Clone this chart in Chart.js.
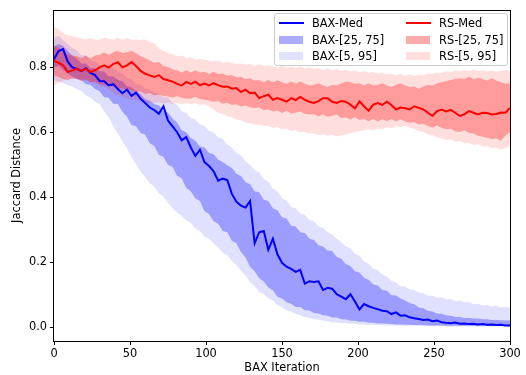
<!DOCTYPE html>
<html><head><meta charset="utf-8">
<script src="https://cdn.jsdelivr.net/npm/chart.js@4"></script>
<style>
html,body{margin:0;padding:0;background:#fff;}
#wrap{position:relative;width:526px;height:375px;}
#legend{position:absolute;left:274px;top:13px;width:234px;height:53px;border:1px solid #cccccc;border-radius:3px;background:rgba(255,255,255,0.8);font:11.4px "DejaVu Sans",sans-serif;color:#000;box-sizing:border-box;}
.t{position:absolute;height:14px;line-height:14px;white-space:nowrap;}
.h{position:absolute;}
</style></head>
<body>
<div id="wrap">
<canvas id="c" width="526" height="375"></canvas>
<div id="legend">
  <div class="h" style="left:4px;top:8px;width:25px;height:2px;background:#0000ff"></div>
  <div class="t" style="left:37px;top:2px">BAX-Med</div>
  <div class="h" style="left:131px;top:8px;width:25px;height:2px;background:#ff0000"></div>
  <div class="t" style="left:164px;top:2px">RS-Med</div>
  <div class="h" style="left:4px;top:22px;width:24px;height:8px;background:rgba(0,0,255,0.33)"></div>
  <div class="t" style="left:37px;top:19px">BAX-[25, 75]</div>
  <div class="h" style="left:131px;top:22px;width:24px;height:8px;background:rgba(255,0,0,0.33)"></div>
  <div class="t" style="left:164px;top:19px">RS-[25, 75]</div>
  <div class="h" style="left:4px;top:38px;width:24px;height:8px;background:rgba(0,0,255,0.12)"></div>
  <div class="t" style="left:37px;top:35px">BAX-[5, 95]</div>
  <div class="h" style="left:131px;top:38px;width:24px;height:8px;background:rgba(255,0,0,0.13)"></div>
  <div class="t" style="left:164px;top:35px">RS-[5, 95]</div>
</div>
</div>
<script>
const ITERS = [0,3,6,9,12,15,18,21,24,27,30,33,36,39,42,45,48,51,54,57,60,63,66,69,72,75,78,81,84,87,90,93,96,99,102,105,108,111,114,117,120,123,126,129,132,135,138,141,144,147,150,153,156,159,162,165,168,171,174,177,180,183,186,189,192,195,198,201,204,207,210,213,216,219,222,225,228,231,234,237,240,243,246,249,252,255,258,261,264,267,270,273,276,279,282,285,288,291,294,297,300];
const X_TICKS = [0,50,100,150,200,250,300];
const Y_TICKS = [0.0,0.2,0.4,0.6,0.8];

const BAX_MED = [0.825,0.850,0.856,0.818,0.800,0.795,0.788,0.797,0.783,0.776,
0.758,0.757,0.744,0.748,0.733,0.720,0.731,0.712,0.722,0.703,
0.690,0.676,0.668,0.657,0.680,0.636,0.618,0.600,0.575,0.585,
0.553,0.527,0.546,0.508,0.496,0.480,0.451,0.457,0.453,0.410,
0.386,0.374,0.368,0.388,0.258,0.292,0.296,0.238,0.272,0.224,
0.198,0.186,0.179,0.170,0.176,0.134,0.141,0.139,0.141,0.114,
0.121,0.118,0.101,0.094,0.086,0.101,0.079,0.054,0.071,0.064,
0.059,0.055,0.050,0.049,0.040,0.045,0.035,0.036,0.030,0.027,
0.025,0.022,0.023,0.018,0.020,0.015,0.013,0.012,0.014,0.010,
0.011,0.009,0.010,0.008,0.009,0.007,0.008,0.006,0.007,0.005,
0.005];
const BAX_P25 = [0.800,0.805,0.792,0.781,0.772,0.764,0.761,0.748,0.746,0.733,
0.726,0.708,0.706,0.688,0.687,0.663,0.648,0.622,0.618,0.598,
0.592,0.566,0.558,0.531,0.524,0.500,0.493,0.466,0.458,0.428,
0.418,0.397,0.388,0.357,0.348,0.326,0.318,0.296,0.292,0.266,
0.258,0.231,0.214,0.186,0.172,0.150,0.140,0.122,0.113,0.093,
0.088,0.076,0.072,0.062,0.062,0.052,0.051,0.043,0.042,0.036,
0.035,0.029,0.029,0.024,0.023,0.019,0.019,0.016,0.016,0.013,
0.013,0.011,0.011,0.010,0.009,0.008,0.008,0.007,0.007,0.006,
0.006,0.006,0.005,0.005,0.005,0.005,0.004,0.004,0.004,0.004,
0.004,0.004,0.003,0.003,0.003,0.003,0.003,0.003,0.003,0.003,
0.003];
const BAX_P75 = [0.865,0.872,0.866,0.851,0.836,0.826,0.812,0.811,0.798,0.797,
0.788,0.787,0.772,0.772,0.762,0.757,0.742,0.738,0.726,0.717,
0.702,0.697,0.686,0.683,0.666,0.660,0.642,0.630,0.606,0.600,
0.582,0.574,0.556,0.553,0.536,0.532,0.516,0.508,0.498,0.490,
0.472,0.465,0.446,0.440,0.418,0.415,0.392,0.388,0.366,0.360,
0.338,0.334,0.312,0.310,0.292,0.290,0.272,0.268,0.252,0.248,
0.236,0.234,0.216,0.210,0.194,0.188,0.172,0.168,0.152,0.146,
0.132,0.128,0.114,0.112,0.098,0.097,0.088,0.082,0.074,0.070,
0.060,0.058,0.050,0.048,0.042,0.041,0.036,0.035,0.031,0.031,
0.028,0.028,0.026,0.026,0.024,0.024,0.022,0.022,0.021,0.020,
0.020];
const BAX_P5 = [0.760,0.755,0.752,0.744,0.741,0.733,0.726,0.714,0.706,0.694,
0.686,0.664,0.646,0.618,0.596,0.572,0.551,0.522,0.502,0.478,
0.462,0.443,0.432,0.412,0.402,0.383,0.366,0.352,0.342,0.328,
0.321,0.303,0.296,0.278,0.272,0.258,0.246,0.228,0.222,0.203,
0.192,0.173,0.158,0.138,0.126,0.108,0.102,0.088,0.082,0.068,
0.062,0.052,0.047,0.040,0.036,0.030,0.028,0.024,0.023,0.019,
0.018,0.015,0.015,0.012,0.012,0.010,0.010,0.008,0.008,0.007,
0.007,0.006,0.006,0.005,0.005,0.005,0.004,0.004,0.004,0.004,
0.003,0.003,0.003,0.003,0.003,0.003,0.002,0.002,0.002,0.002,
0.002,0.002,0.002,0.002,0.002,0.002,0.002,0.002,0.002,0.002,
0.002];
const BAX_P95 = [0.890,0.897,0.884,0.872,0.860,0.852,0.838,0.836,0.822,0.818,
0.808,0.806,0.798,0.797,0.788,0.782,0.768,0.764,0.748,0.746,
0.734,0.732,0.722,0.718,0.708,0.706,0.690,0.684,0.664,0.660,
0.644,0.640,0.624,0.620,0.604,0.600,0.584,0.580,0.562,0.552,
0.536,0.530,0.510,0.500,0.484,0.476,0.456,0.448,0.426,0.418,
0.396,0.390,0.370,0.366,0.350,0.346,0.330,0.326,0.310,0.306,
0.292,0.286,0.272,0.262,0.248,0.242,0.226,0.220,0.202,0.196,
0.180,0.176,0.162,0.156,0.142,0.138,0.126,0.124,0.116,0.114,
0.106,0.104,0.096,0.096,0.090,0.092,0.085,0.086,0.080,0.082,
0.076,0.078,0.070,0.072,0.066,0.068,0.063,0.066,0.060,0.062,
0.060];

const RS_MED = [0.820,0.814,0.806,0.786,0.790,0.796,0.789,0.795,0.786,0.791,
0.800,0.806,0.799,0.810,0.816,0.800,0.806,0.816,0.804,0.789,
0.780,0.775,0.770,0.776,0.764,0.760,0.756,0.749,0.744,0.755,
0.749,0.756,0.745,0.750,0.744,0.751,0.745,0.740,0.741,0.734,
0.736,0.724,0.731,0.720,0.722,0.705,0.711,0.716,0.700,0.705,
0.700,0.694,0.705,0.699,0.709,0.700,0.694,0.690,0.696,0.705,
0.705,0.694,0.690,0.696,0.694,0.685,0.674,0.695,0.680,0.666,
0.685,0.690,0.684,0.694,0.684,0.670,0.676,0.674,0.670,0.680,
0.675,0.670,0.660,0.650,0.665,0.670,0.664,0.669,0.660,0.650,
0.655,0.665,0.660,0.655,0.660,0.659,0.655,0.656,0.661,0.660,
0.675];
const RS_P25 = [0.775,0.770,0.764,0.760,0.766,0.764,0.758,0.761,0.754,0.756,
0.748,0.746,0.743,0.741,0.734,0.736,0.728,0.731,0.723,0.726,
0.718,0.721,0.713,0.716,0.712,0.710,0.707,0.711,0.706,0.704,
0.703,0.709,0.702,0.700,0.698,0.694,0.696,0.688,0.691,0.684,
0.686,0.679,0.682,0.677,0.675,0.676,0.668,0.671,0.664,0.667,
0.659,0.666,0.658,0.661,0.664,0.657,0.655,0.656,0.649,0.655,
0.648,0.651,0.655,0.643,0.646,0.639,0.646,0.638,0.641,0.634,
0.641,0.633,0.640,0.634,0.641,0.633,0.640,0.633,0.629,0.631,
0.624,0.626,0.619,0.614,0.621,0.613,0.609,0.611,0.603,0.601,
0.606,0.598,0.596,0.589,0.586,0.583,0.579,0.581,0.574,0.590,
0.600];
const RS_P75 = [0.866,0.860,0.851,0.839,0.836,0.834,0.829,0.836,0.828,0.836,
0.839,0.846,0.838,0.846,0.851,0.844,0.846,0.851,0.843,0.834,
0.829,0.821,0.814,0.816,0.804,0.801,0.794,0.791,0.784,0.791,
0.784,0.791,0.784,0.786,0.779,0.786,0.779,0.781,0.774,0.776,
0.769,0.771,0.764,0.766,0.759,0.761,0.754,0.761,0.754,0.760,
0.754,0.749,0.756,0.749,0.756,0.749,0.744,0.746,0.751,0.744,
0.739,0.746,0.744,0.751,0.756,0.754,0.749,0.751,0.744,0.751,
0.744,0.746,0.751,0.744,0.739,0.746,0.751,0.744,0.739,0.741,
0.734,0.741,0.746,0.744,0.751,0.754,0.757,0.761,0.764,0.766,
0.764,0.771,0.764,0.767,0.764,0.759,0.766,0.759,0.754,0.750,
0.750];
const RS_P5 = [0.745,0.752,0.759,0.766,0.763,0.767,0.762,0.764,0.755,0.752,
0.744,0.741,0.729,0.722,0.714,0.711,0.704,0.702,0.699,0.696,
0.690,0.692,0.688,0.692,0.687,0.692,0.686,0.691,0.686,0.690,
0.686,0.690,0.684,0.686,0.679,0.671,0.660,0.656,0.649,0.646,
0.639,0.636,0.630,0.628,0.624,0.623,0.619,0.620,0.614,0.616,
0.609,0.611,0.604,0.606,0.599,0.601,0.596,0.598,0.591,0.594,
0.589,0.592,0.587,0.591,0.592,0.597,0.601,0.604,0.606,0.609,
0.605,0.611,0.609,0.615,0.612,0.619,0.616,0.620,0.614,0.611,
0.604,0.601,0.594,0.591,0.584,0.582,0.576,0.578,0.571,0.573,
0.566,0.568,0.561,0.563,0.556,0.558,0.551,0.553,0.546,0.551,
0.558];
const RS_P95 = [0.925,0.918,0.906,0.899,0.896,0.893,0.889,0.886,0.891,0.884,
0.886,0.891,0.888,0.884,0.891,0.884,0.890,0.885,0.886,0.884,
0.886,0.879,0.874,0.858,0.851,0.844,0.841,0.834,0.836,0.829,
0.831,0.824,0.826,0.823,0.821,0.819,0.822,0.814,0.816,0.813,
0.810,0.812,0.808,0.811,0.804,0.810,0.804,0.806,0.803,0.799,
0.805,0.799,0.802,0.798,0.803,0.796,0.800,0.794,0.798,0.792,
0.796,0.791,0.795,0.789,0.793,0.787,0.791,0.785,0.789,0.783,
0.786,0.780,0.784,0.778,0.781,0.775,0.779,0.774,0.778,0.773,
0.777,0.776,0.781,0.779,0.784,0.782,0.788,0.785,0.790,0.787,
0.792,0.788,0.793,0.789,0.791,0.787,0.790,0.786,0.789,0.792,
0.790];

const pts = arr => ITERS.map((x, i) => ({x: x, y: arr[i]}));
const band = (arr, color, fill, order) => ({
  data: pts(arr), borderWidth: 0, pointRadius: 0, backgroundColor: color,
  fill: fill ? '-1' : false, order: order, tension: 0
});

const frame = {
  id: 'frame',
  afterDatasetsDraw(chart) {
    const {ctx, chartArea: a} = chart;
    ctx.save();
    ctx.strokeStyle = '#000';
    ctx.lineWidth = 1;
    ctx.strokeRect(Math.round(a.left) - 0.5, Math.round(a.top) + 0.5, Math.round(a.right - a.left) + 1, Math.round(a.bottom - a.top));
    ctx.restore();
  }
};

const font = {family: 'DejaVu Sans', size: 11.4};

new Chart(document.getElementById('c'), {
  type: 'line',
  data: {
    datasets: [
      band(BAX_P5, 'rgba(0,0,255,0.12)', false, 7),
      band(BAX_P95, 'rgba(0,0,255,0.12)', true, 7),
      band(BAX_P25, 'rgba(0,0,255,0.30)', false, 6),
      band(BAX_P75, 'rgba(0,0,255,0.30)', true, 6),
      band(RS_P5, 'rgba(255,0,0,0.13)', false, 5),
      band(RS_P95, 'rgba(255,0,0,0.13)', true, 5),
      band(RS_P25, 'rgba(255,0,0,0.30)', false, 4),
      band(RS_P75, 'rgba(255,0,0,0.30)', true, 4),
      {label: 'BAX-Med', data: pts(BAX_MED), borderColor: '#0000ff', borderWidth: 2, pointRadius: 0, fill: false, order: 1, tension: 0},
      {label: 'RS-Med', data: pts(RS_MED), borderColor: '#ff0000', borderWidth: 2, pointRadius: 0, fill: false, order: 0, tension: 0}
    ]
  },
  options: {
    responsive: false,
    animation: false,
    devicePixelRatio: 1,
    layout: {padding: {top: 7, right: 16, left: 0, bottom: 0}},
    plugins: {legend: {display: false}, tooltip: {enabled: false}},
    scales: {
      x: {
        type: 'linear', min: 0, max: 300,
        afterBuildTicks: s => { s.ticks = X_TICKS.map(v => ({value: v})); },
        afterFit: s => { s.height = 34; },
        ticks: {font: font, color: '#000', padding: 2, maxRotation: 0, autoSkip: false, callback: v => String(v)},
        grid: {drawOnChartArea: false, drawTicks: true, tickLength: 4, color: '#000'},
        border: {display: false},
        title: {display: true, text: 'BAX Iteration', font: font, color: '#000', padding: {top: 0, bottom: 0}}
      },
      y: {
        type: 'linear', min: -0.043, max: 0.977,
        afterBuildTicks: s => { s.ticks = Y_TICKS.map(v => ({value: v})); },
        afterFit: s => { s.width = 54; },
        ticks: {font: font, color: '#000', padding: 3, autoSkip: false, callback: v => Number(v).toFixed(1)},
        grid: {drawOnChartArea: false, drawTicks: true, tickLength: 4, color: '#000'},
        border: {display: false},
        title: {display: true, text: 'Jaccard Distance', font: font, color: '#000', padding: {top: 10.5, bottom: 0}}
      }
    }
  },
  plugins: [frame]
});
</script>
</body></html>
